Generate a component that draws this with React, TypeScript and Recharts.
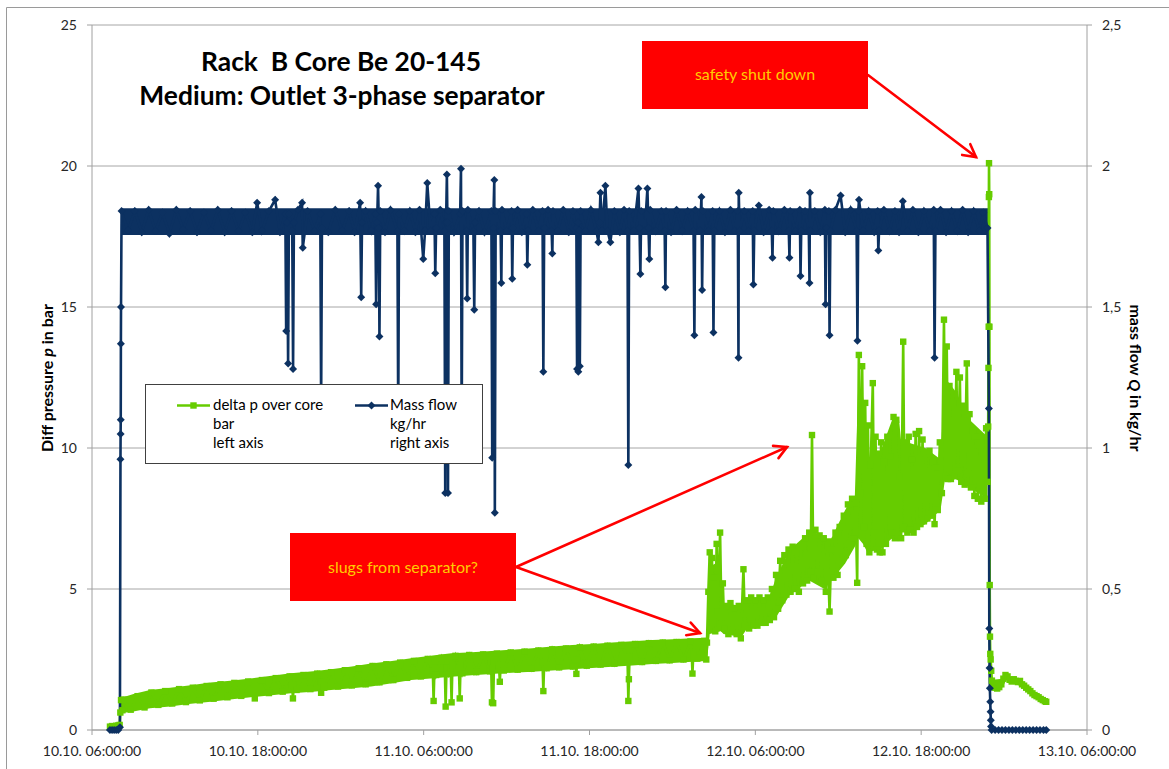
import React from "react";
import { Area, CartesianGrid, ComposedChart, Line, XAxis, YAxis } from "recharts";

const GREEN = "#66CC00";
const NAVY = "#0C3161";
const RED = "#FF0000";

// time axis in hours after 10.10. 06:00:00
const timeTicks = [0, 12, 24, 36, 48, 60, 72];
const timeTickLabels = [
  "10.10. 06:00:00",
  "10.10. 18:00:00",
  "11.10. 06:00:00",
  "11.10. 18:00:00",
  "12.10. 06:00:00",
  "12.10. 18:00:00",
  "13.10. 06:00:00",
];
const pressureTicks = [0, 5, 10, 15, 20, 25];
const flowTicks = [0, 0.5, 1, 1.5, 2, 2.5];

// delta p over core, [hours, bar]
const deltaP: [number, number][] = [
  [1.3, 0.12], [1.45, 0.14], [1.6, 0.13], [1.75, 0.15], [1.9, 0.16], [2.0, 0.18], [2.05, 0.62], [2.1, 1.06], [2.2, 0.7],
  [2.3, 1.08], [2.8, 0.72], [3.3, 1.2], [3.8, 0.8], [4.3, 1.33], [4.8, 0.89], [5.3, 1.38], [5.8, 0.94], [6.3, 1.45],
  [6.8, 0.99], [7.3, 1.5], [7.8, 1.05], [8.3, 1.56], [8.8, 1.11], [9.3, 1.62], [9.8, 1.16], [10.3, 1.67], [10.8, 1.21],
  [11.3, 1.72], [11.72, 1.5], [11.78, 1.12], [11.84, 1.55], [12.3, 1.77], [12.8, 1.31], [13.3, 1.84], [13.8, 1.36],
  [14.3, 1.9], [14.48, 1.6], [14.54, 1.12], [14.6, 1.6], [14.8, 1.42], [15.3, 1.95], [15.8, 1.45], [16.3, 2.0],
  [16.52, 1.7], [16.58, 1.32], [16.64, 1.7], [16.8, 1.5], [17.3, 2.05], [17.8, 1.54], [18.3, 2.12], [18.8, 1.58],
  [19.3, 2.19], [19.8, 1.62], [20.3, 2.27], [20.8, 1.69], [21.3, 2.33], [21.8, 1.77], [22.3, 2.39], [22.8, 1.85],
  [23.3, 2.45], [23.8, 1.9], [24.3, 2.52], [24.66, 2.1], [24.72, 1.03], [24.78, 2.2], [24.9, 1.95], [25.3, 2.56],
  [25.53, 2.2], [25.59, 0.83], [25.65, 2.2], [25.8, 1.98], [25.96, 2.2], [26.02, 0.98], [26.08, 2.3], [26.3, 2.63],
  [26.55, 2.2], [26.61, 1.12], [26.67, 2.3], [26.8, 2.01], [27.3, 2.66], [27.8, 2.05], [28.3, 2.68], [28.8, 2.08],
  [28.88, 2.4], [28.94, 0.98], [28.99, 2.2], [29.03, 0.95], [29.09, 2.4], [29.3, 2.71], [29.45, 2.3], [29.51, 1.71],
  [29.57, 2.3], [29.8, 2.11], [30.3, 2.75], [30.8, 2.14], [31.3, 2.78], [31.8, 2.17], [32.3, 2.82], [32.6, 2.4],
  [32.66, 1.38], [32.72, 2.4], [32.9, 2.19], [33.3, 2.86], [33.8, 2.22], [34.3, 2.89], [34.8, 2.25], [35.0, 2.5],
  [35.05, 1.99], [35.11, 2.5], [35.3, 2.93], [35.8, 2.28], [36.3, 2.96], [36.8, 2.32], [37.3, 2.99], [37.8, 2.35],
  [38.3, 3.02], [38.75, 2.6], [38.81, 1.03], [38.85, 1.8], [38.9, 2.6], [39.3, 3.05], [39.8, 2.41], [40.3, 3.08],
  [40.8, 2.45], [41.3, 3.1], [41.8, 2.47], [42.3, 3.12], [42.8, 2.5], [43.3, 3.14], [43.4, 2.7], [43.45, 2.0],
  [43.51, 2.7], [43.8, 2.53], [44.3, 3.16], [44.45, 2.5],
  [44.5, 3.1], [44.6, 4.9], [44.7, 6.3], [44.78, 3.6], [44.86, 6.1], [44.94, 3.8], [45.02, 5.4], [45.1, 3.5],
  [45.2, 6.6], [45.3, 4.2], [45.45, 7.0], [45.55, 4.0], [45.65, 5.2], [45.75, 3.6], [45.9, 4.4], [46.05, 3.4],
  [46.2, 4.5], [46.35, 3.5], [46.5, 4.3], [46.65, 3.4], [46.8, 4.4], [46.95, 3.25], [47.14, 5.7], [47.25, 3.7],
  [47.4, 4.6], [47.55, 3.6], [47.7, 4.7], [47.85, 3.7], [48.0, 4.6], [48.15, 3.7], [48.3, 4.7], [48.45, 3.8],
  [48.6, 4.6], [48.75, 3.8], [48.9, 4.7], [49.05, 3.9], [49.2, 5.0], [49.35, 4.0], [49.5, 5.5], [49.65, 4.3],
  [49.8, 6.0], [49.95, 4.6], [50.1, 6.2], [50.25, 4.8], [50.4, 6.4], [50.55, 4.9], [50.7, 6.5], [50.85, 5.0],
  [51.0, 6.3], [51.15, 4.9], [51.3, 6.5], [51.45, 5.2], [51.6, 6.8], [51.75, 5.3], [51.9, 7.0], [52.0, 5.6],
  [52.1, 10.46], [52.2, 5.4], [52.35, 7.1], [52.5, 5.6], [52.65, 6.9], [52.8, 5.3], [52.95, 6.8], [53.1, 4.9],
  [53.22, 6.5], [53.37, 4.2], [53.5, 6.4], [53.65, 5.4], [53.8, 7.0], [53.95, 5.5], [54.1, 7.2], [54.25, 6.0],
  [54.4, 7.6], [54.55, 6.2], [54.7, 8.0], [54.85, 6.6], [55.0, 8.2], [55.15, 6.8], [55.25, 8.05], [55.37, 5.22],
  [55.49, 13.3], [55.6, 8.4], [55.73, 12.9], [55.85, 7.2], [55.95, 11.6], [56.05, 6.6], [56.15, 10.8], [56.25, 6.3],
  [56.35, 9.4], [56.5, 12.3], [56.6, 7.0], [56.7, 10.4], [56.8, 6.4], [56.9, 9.8], [57.0, 6.3], [57.1, 10.2],
  [57.2, 6.3], [57.3, 9.5], [57.45, 6.6], [57.55, 10.4], [57.7, 6.9], [57.8, 9.7], [57.9, 7.0], [58.0, 11.1],
  [58.1, 6.8], [58.2, 11.0], [58.3, 6.9], [58.45, 9.0], [58.55, 6.8], [58.7, 13.77], [58.8, 7.2], [58.9, 10.2],
  [59.0, 7.0], [59.1, 10.4], [59.2, 7.1], [59.35, 9.6], [59.45, 7.0], [59.6, 10.5], [59.7, 7.2], [59.85, 10.6],
  [59.95, 7.3], [60.1, 10.3], [60.2, 7.4], [60.35, 9.8], [60.45, 7.5], [60.6, 9.9], [60.7, 7.6], [60.85, 9.5],
  [60.97, 7.3], [61.1, 9.3], [61.2, 7.8], [61.35, 10.2], [61.5, 8.4], [61.65, 14.55], [61.75, 9.0], [61.85, 13.6],
  [61.95, 8.9], [62.05, 12.2], [62.15, 8.9], [62.3, 11.6], [62.4, 9.0], [62.55, 12.7], [62.65, 9.2], [62.8, 12.5],
  [62.9, 8.8], [63.05, 11.5], [63.15, 8.7], [63.3, 13.0], [63.4, 9.1], [63.5, 11.2], [63.6, 8.6], [63.75, 10.6],
  [63.85, 8.3], [64.0, 10.4], [64.1, 8.2], [64.25, 10.1], [64.35, 8.1], [64.5, 9.8], [64.6, 8.2], [64.7, 10.7],
  [64.8, 8.8],
  [64.85, 10.76], [64.87, 12.84], [64.885, 14.3], [64.9, 18.9], [64.91, 20.1], [64.925, 19.0], [64.94, 14.3],
  [64.96, 5.14], [64.98, 3.31], [65.0, 2.7], [65.03, 2.5], [65.07, 2.1], [65.12, 1.75], [65.2, 1.55], [65.35, 1.5],
  [65.5, 1.47], [65.65, 1.52], [65.8, 1.62], [65.95, 1.82], [66.1, 1.95], [66.25, 1.9], [66.4, 1.78], [66.55, 1.72],
  [66.7, 1.8], [66.85, 1.74], [67.0, 1.7], [67.15, 1.74], [67.3, 1.62], [67.45, 1.57], [67.6, 1.5], [67.75, 1.44],
  [67.9, 1.38], [68.05, 1.3], [68.2, 1.24], [68.35, 1.2], [68.5, 1.16], [68.65, 1.1], [68.8, 1.06], [68.95, 1.02],
  [69.05, 1.0],
];

// solid body of the dense delta p readings, [hours, low, high]
const deltaPBand: [number, number, number][] = [
  [2.2, 0.6, 1.15], [3.0, 0.66, 1.28], [4.2, 0.77, 1.42], [5.65, 0.83, 1.5], [7.0, 0.92, 1.58], [8.58, 1.0, 1.68],
  [10.0, 1.08, 1.75], [11.48, 1.16, 1.83], [13.0, 1.23, 1.92], [14.4, 1.3, 2.01], [16.0, 1.36, 2.08], [17.3, 1.42, 2.15],
  [18.8, 1.48, 2.25], [20.2, 1.54, 2.36], [21.7, 1.66, 2.45], [23.1, 1.77, 2.54], [24.5, 1.83, 2.63], [26.0, 1.89, 2.72],
  [27.5, 1.94, 2.76], [28.9, 1.99, 2.8], [30.4, 2.03, 2.85], [31.85, 2.07, 2.9], [33.3, 2.11, 2.96], [34.75, 2.15, 3.01],
  [36.2, 2.2, 3.05], [37.65, 2.24, 3.1], [39.1, 2.29, 3.15], [40.55, 2.34, 3.19], [42.0, 2.38, 3.22], [43.45, 2.42, 3.25],
  [44.5, 2.45, 3.27], [44.7, 3.4, 5.8], [45.5, 3.5, 6.0], [45.7, 3.4, 4.5], [47.0, 3.3, 4.4], [47.4, 3.6, 4.6],
  [49.0, 3.8, 4.7], [49.5, 4.0, 5.4], [50.5, 4.8, 6.4], [51.9, 5.3, 7.0], [53.0, 5.0, 6.8], [53.5, 5.3, 6.8],
  [54.5, 5.9, 7.8], [55.2, 6.5, 8.3], [55.45, 6.8, 12.3], [55.8, 6.6, 11.8], [56.1, 6.3, 9.6], [57.0, 6.4, 9.8],
  [57.9, 6.8, 11.0], [58.4, 6.9, 11.0], [58.6, 7.0, 10.0], [59.0, 7.0, 10.2], [60.3, 7.3, 10.0], [61.4, 7.8, 9.6],
  [61.7, 8.8, 12.5], [62.5, 8.9, 12.0], [63.5, 8.6, 11.0], [64.8, 8.2, 10.4],
];

// after the shut down, [hours, low, high]
const deltaPTailBand: [number, number, number][] = [
  [65.15, 1.45, 1.78], [65.9, 1.52, 1.82], [66.15, 1.76, 1.98], [66.6, 1.66, 1.86], [67.2, 1.56, 1.77],
  [68.0, 1.25, 1.43], [68.6, 1.05, 1.2], [69.05, 0.95, 1.06],
];

// mass flow, [hours, kg/hr]
const massFlow: [number, number][] = [
  [1.3, 0], [1.45, 0], [1.6, 0], [1.75, 0], [1.9, 0], [2.02, 0.01], [2.06, 0.96], [2.07, 1.05], [2.08, 1.1],
  [2.09, 1.37], [2.1, 1.5], [2.14, 1.84],
  [2.6, 1.77], [3.1, 1.84], [3.6, 1.765], [4.1, 1.845], [4.6, 1.77], [5.1, 1.835], [5.6, 1.76], [6.1, 1.845],
  [6.6, 1.775], [7.1, 1.84], [7.6, 1.765], [8.1, 1.835], [8.6, 1.77], [9.1, 1.845], [9.6, 1.765], [10.1, 1.84],
  [10.6, 1.77], [11.1, 1.835], [11.6, 1.765], [11.95, 1.87], [12.3, 1.77], [12.8, 1.84], [13.25, 1.88], [13.6, 1.765],
  [13.99, 1.83], [14.05, 1.415], [14.12, 1.8], [14.19, 1.3], [14.25, 1.83], [14.49, 1.77], [14.55, 1.28], [14.61, 1.8],
  [14.9, 1.845], [15.2, 1.87], [15.25, 1.71], [15.6, 1.84], [16.1, 1.77], [16.52, 1.83], [16.58, 1.15], [16.64, 1.78],
  [17.1, 1.765], [17.6, 1.845], [18.1, 1.77], [18.6, 1.84], [19.0, 1.765], [19.4, 1.87], [19.48, 1.535], [19.54, 1.8],
  [19.8, 1.84], [20.2, 1.77], [20.5, 1.83], [20.56, 1.51], [20.63, 1.8], [20.7, 1.93], [20.76, 1.78], [20.8, 1.395],
  [20.86, 1.84], [21.2, 1.765], [21.6, 1.845], [22.1, 1.77], [22.16, 1.1], [22.22, 1.83], [22.6, 1.77], [23.0, 1.84],
  [23.4, 1.765], [23.7, 1.845], [23.97, 1.67], [24.1, 1.77], [24.26, 1.94], [24.5, 1.77], [24.78, 1.83], [24.84, 1.62],
  [24.9, 1.78], [25.2, 1.845], [25.5, 1.77], [25.56, 0.84], [25.62, 1.8], [25.68, 1.97], [25.72, 1.8], [25.76, 0.84],
  [25.82, 1.84], [26.2, 1.765], [26.64, 1.83], [26.7, 1.99], [26.75, 1.05], [26.81, 1.84], [27.1, 1.77], [27.15, 1.53],
  [27.2, 1.845], [27.6, 1.77], [27.66, 1.49], [27.72, 1.8], [28.0, 1.84], [28.4, 1.765], [28.9, 1.84], [28.96, 0.965],
  [29.03, 1.78], [29.11, 1.95], [29.15, 0.77], [29.21, 1.84], [29.57, 1.77], [29.62, 1.585], [29.67, 1.845], [30.0, 1.77],
  [30.36, 1.84], [30.41, 1.6], [30.46, 1.78], [30.8, 1.845], [31.1, 1.765], [31.45, 1.83], [31.5, 1.65], [31.55, 1.77],
  [31.9, 1.845], [32.3, 1.77], [32.6, 1.84], [32.66, 1.27], [32.72, 1.78], [33.0, 1.845], [33.26, 1.77], [33.31, 1.69],
  [33.36, 1.84], [33.7, 1.77], [34.1, 1.845], [34.5, 1.765], [34.8, 1.84], [35.05, 1.78], [35.1, 1.28], [35.15, 1.8],
  [35.19, 1.27], [35.25, 1.77], [35.3, 1.29], [35.36, 1.84], [35.7, 1.77], [36.1, 1.845], [36.5, 1.77], [36.64, 1.73],
  [36.72, 1.8], [36.79, 1.905], [36.9, 1.77], [37.15, 1.93], [37.3, 1.77], [37.51, 1.73], [37.8, 1.84], [38.2, 1.765],
  [38.5, 1.845], [38.75, 1.77], [38.81, 0.94], [38.87, 1.84], [39.2, 1.77], [39.54, 1.92], [39.62, 1.78], [39.68, 1.617],
  [39.74, 1.84], [40.0, 1.77], [40.19, 1.92], [40.27, 1.78], [40.33, 1.67], [40.39, 1.845], [40.8, 1.77], [41.2, 1.84],
  [41.44, 1.77], [41.49, 1.57], [41.54, 1.84], [41.9, 1.765], [42.3, 1.845], [42.7, 1.77], [43.1, 1.84], [43.53, 1.77],
  [43.59, 1.4], [43.65, 1.845], [44.0, 1.77], [44.1, 1.89], [44.15, 1.56], [44.21, 1.84], [44.6, 1.77], [44.91, 1.84],
  [44.97, 1.41], [45.03, 1.77], [45.4, 1.84], [45.8, 1.765], [46.2, 1.845], [46.5, 1.77], [46.73, 1.84], [46.78, 1.32],
  [46.8, 1.905], [46.86, 1.77], [47.2, 1.84], [47.5, 1.77], [47.81, 1.84], [47.86, 1.58], [47.92, 1.77], [48.25, 1.86],
  [48.6, 1.765], [49.0, 1.845], [49.19, 1.77], [49.24, 1.675], [49.3, 1.84], [49.7, 1.77], [50.1, 1.845], [50.42, 1.77],
  [50.47, 1.675], [50.52, 1.84], [50.9, 1.77], [51.22, 1.845], [51.27, 1.61], [51.32, 1.77], [51.6, 1.84], [51.87, 1.77],
  [51.92, 1.585], [51.95, 1.905], [52.0, 1.77], [52.3, 1.84], [52.7, 1.765], [53.03, 1.845], [53.08, 1.51], [53.13, 1.78],
  [53.32, 1.84], [53.37, 1.4], [53.43, 1.77], [53.8, 1.845], [54.17, 1.895], [54.5, 1.765], [54.9, 1.845], [55.33, 1.77],
  [55.39, 1.38], [55.45, 1.84], [55.5, 1.88], [55.8, 1.77], [56.2, 1.84], [56.6, 1.765], [56.85, 1.84], [56.9, 1.7],
  [56.95, 1.77], [57.3, 1.845], [57.7, 1.77], [58.1, 1.84], [58.4, 1.765], [58.67, 1.875], [59.0, 1.77], [59.4, 1.845],
  [59.8, 1.765], [60.2, 1.84], [60.6, 1.77], [60.91, 1.845], [60.97, 1.32], [61.03, 1.77], [61.4, 1.845], [61.8, 1.765],
  [62.2, 1.84], [62.6, 1.77], [63.0, 1.845], [63.4, 1.765], [63.8, 1.84], [64.2, 1.77], [64.5, 1.835], [64.8, 1.78],
  [64.9, 1.14], [64.93, 0.36], [64.95, 0.22], [64.97, 0.148], [65.0, 0.1], [65.02, 0.065], [65.04, 0.035],
  [65.06, 0.012], [65.1, 0], [65.35, 0], [65.6, 0], [65.85, 0], [66.1, 0], [66.35, 0], [66.6, 0], [66.85, 0],
  [67.1, 0], [67.35, 0], [67.6, 0], [67.85, 0], [68.1, 0], [68.35, 0], [68.6, 0], [68.85, 0], [69.05, 0],
];

// solid body of the dense mass flow readings, [hours, low, high]
const massFlowBand: [number, number, number][] = [
  [2.15, 1.755, 1.85],
  [64.85, 1.755, 1.85],
];

const toBand = (rows: [number, number, number][]) => rows.map(([h, lo, hi]) => ({ h, r: [lo, hi] }));
const deltaPData = deltaP.map(([h, v]) => ({ h, v }));
const massFlowData = massFlow.map(([h, q]) => ({ h, q }));

const tickStyle = { fontSize: 14, fill: "#262626", fontFamily: "Lato" };

const SquareDot = (p: any) =>
  p.cx == null ? null : <rect key={`sq-${p.index}`} x={p.cx - 3.2} y={p.cy - 3.2} width={6.4} height={6.4} fill={GREEN} />;

const DiamondDot = (p: any) =>
  p.cx == null ? null : (
    <path
      key={`dm-${p.index}`}
      d={`M${p.cx},${p.cy - 4}L${p.cx + 4},${p.cy}L${p.cx},${p.cy + 4}L${p.cx - 4},${p.cy}Z`}
      fill={NAVY}
    />
  );

const Arrow = ({ x1, y1, x2, y2 }: { x1: number; y1: number; x2: number; y2: number }) => {
  const a = Math.atan2(y2 - y1, x2 - x1);
  const L = 14;
  const w = 0.5;
  const b1 = [x2 - L * Math.cos(a - w), y2 - L * Math.sin(a - w)];
  const b2 = [x2 - L * Math.cos(a + w), y2 - L * Math.sin(a + w)];
  return (
    <g stroke={RED} strokeWidth={2.6} fill="none" strokeLinecap="round">
      <line x1={x1} y1={y1} x2={x2} y2={y2} />
      <polyline points={`${b1[0]},${b1[1]} ${x2},${y2} ${b2[0]},${b2[1]}`} />
    </g>
  );
};

const bandProps = {
  type: "linear" as const,
  stroke: "none",
  fillOpacity: 1,
  isAnimationActive: false,
  activeDot: false,
  legendType: "none" as const,
};

export default function App() {
  return (
    <div style={{ position: "fixed", left: 0, top: 0, width: 1169, height: 769, background: "#fff" }}>
      <ComposedChart width={1169} height={769} margin={{ top: 25, right: 0, bottom: 0, left: 0 }}>
        <CartesianGrid vertical={false} yAxisId="left" stroke="#a6a6a6" />
        <XAxis
          dataKey="h"
          type="number"
          domain={[0, 72]}
          ticks={timeTicks}
          interval={0}
          tickFormatter={(t: number) => timeTickLabels[timeTicks.indexOf(t)]}
          height={39}
          tickSize={5}
          tickMargin={11}
          tick={tickStyle}
          stroke="#a0a0a0"
          allowDataOverflow
        />
        <YAxis
          yAxisId="left"
          type="number"
          domain={[0, 25]}
          ticks={pressureTicks}
          interval={0}
          width={92}
          tickSize={5}
          tickMargin={10}
          tick={tickStyle}
          stroke="#a0a0a0"
        />
        <YAxis
          yAxisId="right"
          orientation="right"
          type="number"
          domain={[0, 2.5]}
          ticks={flowTicks}
          interval={0}
          width={82}
          tickSize={5}
          tickMargin={10}
          tick={tickStyle}
          tickFormatter={(v: number) => String(v).replace(".", ",")}
          stroke="#a0a0a0"
        />
        <Area yAxisId="left" data={toBand(deltaPBand)} dataKey="r" fill={GREEN} {...bandProps} />
        <Area yAxisId="left" data={toBand(deltaPTailBand)} dataKey="r" fill={GREEN} {...bandProps} />
        <Line
          yAxisId="left"
          data={deltaPData}
          dataKey="v"
          type="linear"
          stroke={GREEN}
          strokeWidth={2.6}
          dot={SquareDot}
          activeDot={false}
          isAnimationActive={false}
        />
        <Area yAxisId="right" data={toBand(massFlowBand)} dataKey="r" fill={NAVY} {...bandProps} />
        <Line
          yAxisId="right"
          data={massFlowData}
          dataKey="q"
          type="linear"
          stroke={NAVY}
          strokeWidth={2.6}
          dot={DiamondDot}
          activeDot={false}
          isAnimationActive={false}
        />
      </ComposedChart>

      <svg width={1169} height={769} style={{ position: "absolute", left: 0, top: 0, pointerEvents: "none" }}>
        <path d="M6.5,769 L6.5,7.5 L1169,7.5" fill="none" stroke="#9a9a9a" strokeWidth={1} />

        <g fontFamily="Lato" fontWeight="bold" fontSize={26.4} fill="#000" textAnchor="middle">
          <text x={341} y={71} xmlSpace="preserve">Rack  B Core Be 20-145</text>
          <text x={342} y={105}>Medium: Outlet 3-phase separator</text>
        </g>

        <text
          x={46}
          y={378}
          transform="rotate(-90 46 378)"
          textAnchor="middle"
          dominantBaseline="central"
          fontFamily="Lato"
          fontWeight="bold"
          fontSize={16}
        >
          Diff pressure <tspan fontStyle="italic">p</tspan> in bar
        </text>
        <text
          x={1136}
          y={378}
          transform="rotate(90 1136 378)"
          textAnchor="middle"
          dominantBaseline="central"
          fontFamily="Lato"
          fontWeight="bold"
          fontSize={16}
        >
          mass flow <tspan fontStyle="italic">Q</tspan> in kg/hr
        </text>

        <g>
          <rect x={145.5} y={384.5} width={337} height={79} fill="#fff" stroke="#404040" strokeWidth={1} />
          <line x1={177} y1={405.5} x2={210} y2={405.5} stroke={GREEN} strokeWidth={2.6} />
          <rect x={190.3} y={402.3} width={6.4} height={6.4} fill={GREEN} />
          <line x1={355} y1={405.5} x2={388} y2={405.5} stroke={NAVY} strokeWidth={2.6} />
          <path d="M371.5,401.5L375.5,405.5L371.5,409.5L367.5,405.5Z" fill={NAVY} />
          <g fontFamily="Lato" fontSize={15} fill="#000">
            <text x={213} y={410}>delta p over core</text>
            <text x={213} y={429}>bar</text>
            <text x={213} y={448}>left axis</text>
            <text x={390} y={410}>Mass flow</text>
            <text x={390} y={429}>kg/hr</text>
            <text x={390} y={448}>right axis</text>
          </g>
        </g>

        <rect x={642} y={41} width={226} height={68} fill={RED} />
        <text x={755} y={80} textAnchor="middle" fontFamily="Lato" fontSize={16} fill="#FFCC00">
          safety shut down
        </text>
        <Arrow x1={868} y1={75} x2={976} y2={157} />

        <rect x={290} y={533} width={226} height={68} fill={RED} />
        <text x={403} y={573} textAnchor="middle" fontFamily="Lato" fontSize={16} fill="#FFCC00">
          slugs from separator?
        </text>
        <Arrow x1={516} y1={567} x2={787} y2={447} />
        <Arrow x1={516} y1={567} x2={700} y2={633} />
      </svg>
    </div>
  );
}
